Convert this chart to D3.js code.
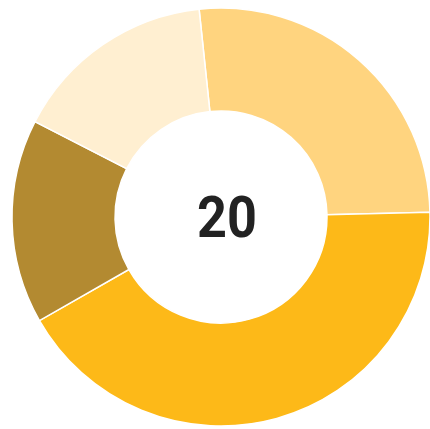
<!DOCTYPE html>
<html>
<head>
<meta charset="utf-8">
<style>
  body { margin: 0; background: #fff; }
  svg { display: block; }
</style>
</head>
<body>
<svg id="donut"></svg>
<script src="https://cdn.jsdelivr.net/npm/d3@7"></script>
<script>
// slice data, clockwise from the top
var categories = ['A', 'B', 'C', 'D'];
var values = [5, 8, 3, 3];
var colors = ['#FFD47F', '#FDB918', '#B38A31', '#FFEFD1'];
var centerLabel = '20';

var width = 430, height = 429;
var cx = 221, cy = 217;
var outerR = 209, innerR = 106;

var svg = d3.select('#donut')
    .attr('width', width)
    .attr('height', height);

var g = svg.append('g')
    .attr('transform', 'translate(' + cx + ',' + cy + ')');

var color = d3.scaleOrdinal()
    .domain(categories)
    .range(colors);

var pie = d3.pie()
    .sort(null)
    .value(function(d, i) { return values[i]; })
    .startAngle(-0.105)
    .endAngle(-0.105 + 2 * Math.PI);

var arc = d3.arc()
    .innerRadius(innerR)
    .outerRadius(outerR);

g.selectAll('.slice')
    .data(pie(categories))
    .enter().append('path')
    .attr('class', 'slice')
    .attr('d', arc)
    .style('fill', function(d) { return color(d.data); })
    .style('stroke', '#fff')
    .style('stroke-width', 1.5);

// label is a bit condensed in the original
g.append('text')
    .attr('transform', 'translate(6,0) scale(0.9,1)')
    .attr('dy', '0.35em')
    .attr('text-anchor', 'middle')
    .style('font-family', 'Roboto, sans-serif')
    .style('font-weight', 'bold')
    .style('font-size', '58px')
    .style('fill', '#222')
    .text(centerLabel);
</script>
</body>
</html>
